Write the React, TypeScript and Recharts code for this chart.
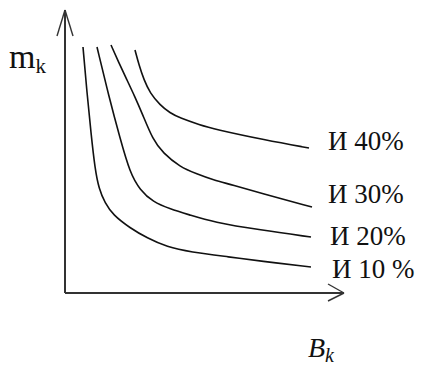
import { LineChart, Line, XAxis, YAxis, ReferenceLine } from 'recharts'

/* ── Data (Bk along x, mk along y, arbitrary schematic units) ── */
const seriesNames = ['И 10 %', 'И 20%', 'И 30%', 'И 40%']

const bk10 = [18, 22, 26, 30, 34, 40, 48, 65, 82, 102, 125, 165, 195, 246]
const mk10 = [246, 200, 160, 124, 104, 90, 78, 65, 55, 46, 41, 36, 32, 26]

const bk20 = [32, 44, 55, 65, 75, 88, 105, 125, 148, 195, 246]
const mk20 = [246, 196, 155, 120, 103, 91, 84, 78, 71, 63, 56]

const bk30 = [46, 54, 62, 70, 77, 88, 98, 115, 132, 148, 168, 195, 247]
const mk30 = [248, 230, 213, 196, 180, 153, 140, 126, 119, 113, 108, 100, 86]

const bk40 = [70, 74, 79, 85, 95, 105, 115, 135, 149, 200, 244]
const mk40 = [243, 228, 213, 200, 188, 180, 175, 168, 164, 153, 145]

const bkMax = 279
const mkMax = 283

/* ── Styling ── */
const W = 428
const H = 365
const serif = "'Liberation Serif', 'Times New Roman', serif"
const ink = '#111'
const axisInk = '#333'
// label nudges relative to each curve's last point (px)
const labelNudge = [
  { dx: 21, dy: 11 },
  { dx: 19, dy: 8 },
  { dx: 16, dy: -4 },
  { dx: 19, dy: 2 },
]

const toPoints = (xs: number[], ys: number[]) => xs.map((x, i) => ({ x, y: ys[i] }))
const curves = [
  toPoints(bk10, mk10),
  toPoints(bk20, mk20),
  toPoints(bk30, mk30),
  toPoints(bk40, mk40),
]

/* axis titles, placed from the axis segment's box */
const YTitle = (props: any) => {
  const vb = props.viewBox || { x: 65, y: 10 }
  return (
    <text x={vb.x - 56} y={vb.y + 58} fontFamily={serif} fill={ink}>
      <tspan fontSize={34}>m</tspan>
      <tspan fontSize={21} dy={5}>k</tspan>
    </text>
  )
}

const XTitle = (props: any) => {
  const vb = props.viewBox || { x: 65, y: 293 }
  return (
    <text x={vb.x + 243} y={vb.y + 64} fontFamily={serif} fontStyle="italic" fill={ink}>
      <tspan fontSize={28}>B</tspan>
      <tspan fontSize={20} dy={5}>k</tspan>
    </text>
  )
}

export default function App() {
  const axis = { stroke: axisInk, strokeWidth: 2, ifOverflow: 'visible' as const }
  const wing = { stroke: axisInk, strokeWidth: 1.4, ifOverflow: 'visible' as const }
  return (
    <div style={{ position: 'absolute', left: 0, top: 0, width: W, height: H, background: '#fff' }}>
      <LineChart width={W} height={H} margin={{ top: 10, right: W - 344, bottom: H - 293, left: 65 }}>
        <XAxis type="number" dataKey="x" domain={[0, bkMax]} allowDataOverflow hide />
        <YAxis type="number" dataKey="y" domain={[0, mkMax]} allowDataOverflow hide />

        {/* axes */}
        <ReferenceLine segment={[{ x: 0, y: 0 }, { x: 0, y: mkMax }]} {...axis} label={{ content: YTitle }} />
        <ReferenceLine segment={[{ x: 0, y: 0 }, { x: bkMax, y: 0 }]} {...axis} label={{ content: XTitle }} />

        {/* arrow heads */}
        <ReferenceLine segment={[{ x: -8, y: mkMax - 26 }, { x: 0, y: mkMax }]} {...wing} />
        <ReferenceLine segment={[{ x: 8, y: mkMax - 26 }, { x: 0, y: mkMax }]} {...wing} />
        <ReferenceLine segment={[{ x: bkMax - 16, y: 9 }, { x: bkMax, y: 0 }]} {...wing} />
        <ReferenceLine segment={[{ x: bkMax - 16, y: -8 }, { x: bkMax, y: 0 }]} {...wing} />

        {curves.map((data, s) => (
          <Line
            key={seriesNames[s]}
            data={data}
            dataKey="y"
            type="basis"
            stroke={ink}
            strokeWidth={1.6}
            dot={false}
            activeDot={false}
            isAnimationActive={false}
            label={(p: any) =>
              p.index === data.length - 1 ? (
                <text
                  key={`lbl-${s}`}
                  x={p.x + labelNudge[s].dx}
                  y={p.y + labelNudge[s].dy}
                  fontFamily={serif}
                  fontSize={27}
                  fill={ink}
                >
                  {seriesNames[s]}
                </text>
              ) : (
                <g key={`lbl-${s}-${p.index}`} />
              )
            }
          />
        ))}
      </LineChart>
    </div>
  )
}
